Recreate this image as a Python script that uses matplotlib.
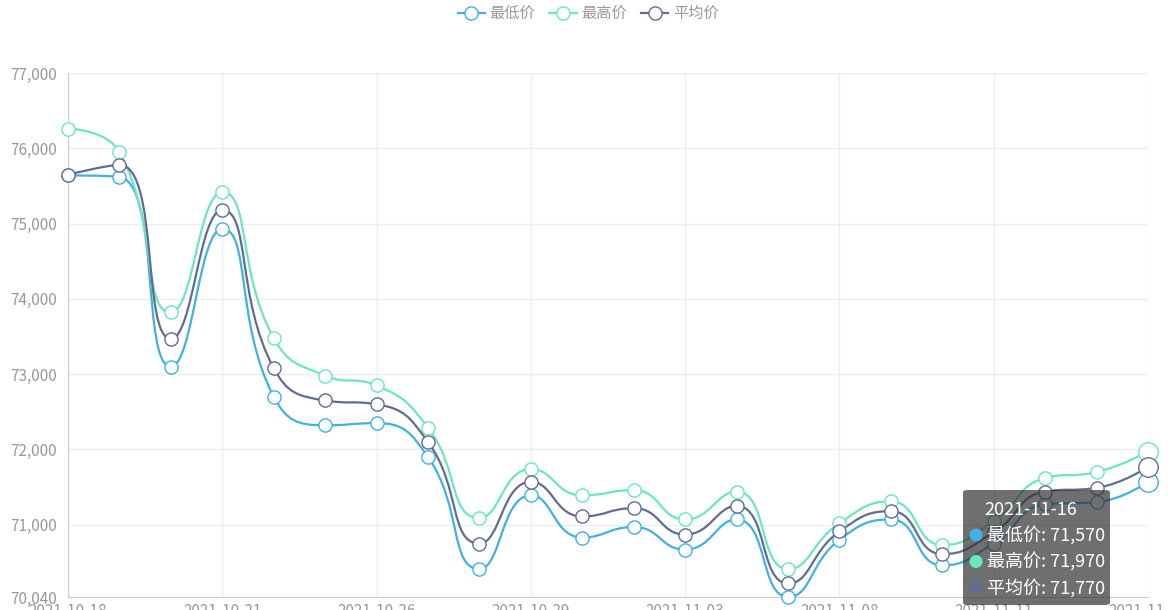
import numpy as np
import matplotlib
matplotlib.use("Agg")
import matplotlib.pyplot as plt
from matplotlib.path import Path
from matplotlib.patches import PathPatch, FancyBboxPatch, Ellipse
from matplotlib.lines import Line2D

# =====================================
# Data
# =====================================

dates = [
    "2021-10-18", "2021-10-19", "2021-10-20", "2021-10-21", "2021-10-22",
    "2021-10-25", "2021-10-26", "2021-10-27", "2021-10-28", "2021-10-29",
    "2021-11-01", "2021-11-02", "2021-11-03", "2021-11-04", "2021-11-05",
    "2021-11-08", "2021-11-09", "2021-11-10", "2021-11-11", "2021-11-12",
    "2021-11-15", "2021-11-16",
]

low_price = [75640, 75620, 73100, 74930, 72700, 72320, 72350, 71900, 70410, 71390, 70830,
             70970, 70670, 71070, 70040, 70800, 71070, 70460, 70750, 71270, 71300, 71570]
high_price = [76260, 75950, 73820, 75420, 73480, 72980, 72850, 72290, 71090, 71740, 71390,
              71460, 71070, 71440, 70410, 71020, 71310, 70730, 71050, 71620, 71700, 71970]
avg_price = [75650, 75780, 73470, 75180, 73080, 72650, 72600, 72100, 70750, 71570, 71110,
             71220, 70870, 71250, 70220, 70910, 71180, 70610, 70900, 71440, 71490, 71770]

series_names = ["最低价", "最高价", "平均价"]
series_values = [low_price, high_price, avg_price]
colors = ["#3fb1e3", "#6be6c1", "#626c91"]

y_ticks = [70040, 71000, 72000, 73000, 74000, 75000, 76000, 77000]
hover_index = 21

plt.rcParams["font.family"] = ["Noto Sans CJK SC", "DejaVu Sans"]

W, H = 1168, 610
fig = plt.figure(figsize=(W / 100, H / 100), dpi=100)
ax = fig.add_axes([68 / W, (H - 597) / H, 1080 / W, 524 / H])

x = np.arange(len(dates))
ax.set_xlim(0, len(dates) - 1)
ax.set_ylim(y_ticks[0], y_ticks[-1])

# =====================================
# Axes style
# =====================================

ax.set_yticks(y_ticks)
ax.set_yticklabels([f"{v:,}" for v in y_ticks])
ax.set_xticks(x[::3])
ax.set_xticklabels([dates[i] for i in x[::3]])
ax.tick_params(axis="both", length=0, colors="#999999", labelsize=11)
ax.tick_params(axis="y", pad=8)
ax.tick_params(axis="x", pad=4)
ax.grid(True, color="#eeeeee", lw=1)
ax.set_axisbelow(True)
for side in ["top", "right"]:
    ax.spines[side].set_visible(False)
for side in ["left", "bottom"]:
    ax.spines[side].set_color("#cccccc")


# =====================================
# Smooth line like echarts 5 (smooth: 0.5, clamped control points)
# =====================================

def clamp(v, a, b):
    return np.minimum(np.maximum(v, np.minimum(a, b)), np.maximum(a, b))


def smooth_path(xs, ys, smooth=0.5):
    pts = ax.transData.transform(np.column_stack([xs, ys]))
    n = len(pts)
    verts = [pts[0]]
    codes = [Path.MOVETO]
    cp0 = pts[0]
    for i in range(1, n):
        p = pts[i]
        if i < n - 1:
            prev, nxt = pts[i - 1], pts[i + 1]
            v = nxt - prev
            l0 = np.hypot(*(p - prev))
            l1 = np.hypot(*(nxt - p))
            r = l1 / (l0 + l1)
            next_cp0 = clamp(p + v * smooth * r, p, nxt)
            cp1 = p - (next_cp0 - p) * l0 / l1
            cp1 = clamp(cp1, prev, p)
            next_cp0 = p + (p - cp1) * l1 / l0
        else:
            cp1 = p
            next_cp0 = p
        verts += [cp0, cp1, p]
        codes += [Path.CURVE4] * 3
        cp0 = next_cp0
    verts = ax.transData.inverted().transform(np.array(verts))
    return Path(verts, codes)


for name, vals, c in zip(series_names, series_values, colors):
    ax.add_patch(PathPatch(smooth_path(x, vals), facecolor="none", edgecolor=c,
                           lw=1.6, zorder=2, clip_on=False))
    ax.plot(x[:-1], vals[:-1], "o", ms=9.5, mfc="white", mec=c, mew=1.0,
            zorder=3, clip_on=False)
    ax.plot(x[hover_index], vals[hover_index], "o", ms=14, mfc="white", mec=c,
            mew=1.0, zorder=3, clip_on=False)

# =====================================
# Legend
# =====================================

handles = [Line2D([], [], color=c, lw=1.6, marker="o", ms=9.5, mfc="white", mec=c)
           for c in colors]
leg = fig.legend(handles, series_names, loc="upper center", ncol=3, frameon=False,
                 bbox_to_anchor=(0.5035, 1.014), fontsize=11, handlelength=1.8,
                 handletextpad=0.3, columnspacing=0.9)
for t in leg.get_texts():
    t.set_color("#999999")

# =====================================
# Tooltip (hover on last day)
# =====================================

def fx(px):
    return px / W


def fy(py):
    return 1 - py / H


box = FancyBboxPatch((fx(963), fy(605)), fx(147), 115 / H,
                     boxstyle="round,pad=0,rounding_size=0.004",
                     transform=fig.transFigure, facecolor="#323232", alpha=0.7,
                     edgecolor="none", zorder=10)
fig.patches.append(box)
fig.text(fx(1031), fy(510), dates[hover_index], color="white", fontsize=13,
         ha="center", va="center", zorder=11)
for k, (name, vals, c) in enumerate(zip(series_names, series_values, colors)):
    yy = 535 + k * 26.5
    dot = Ellipse((fx(976), fy(yy)), 13 / W, 13 / H, transform=fig.transFigure,
                  facecolor=c, edgecolor="none", zorder=11)
    fig.patches.append(dot)
    fig.text(fx(987), fy(yy), f"{name}: {vals[hover_index]:,}", color="white",
             fontsize=13, ha="left", va="center", zorder=11)

fig.savefig("out.png", dpi=100)
